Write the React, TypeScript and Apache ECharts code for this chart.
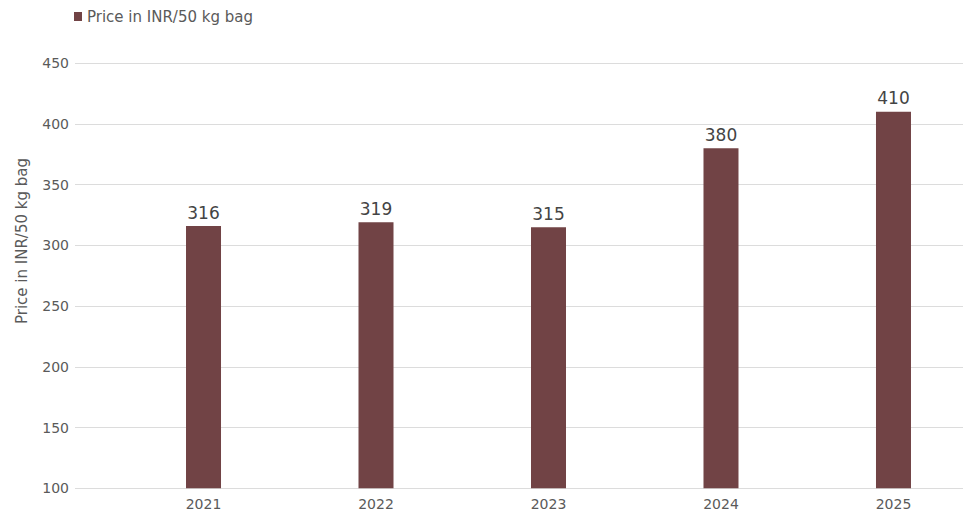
import React, { useEffect, useRef } from "react";
import * as echarts from "echarts";

const years = [2021, 2022, 2023, 2024, 2025];
const prices = [316, 319, 315, 380, 410];
const seriesName = "Price in INR/50 kg bag";
const yTitle = "Price in INR/50 kg bag";

const FONT = "'DejaVu Sans', sans-serif";
const BAR = "#714345";
const TEXT = "#5a5a5a";

export default function App() {
  const ref = useRef<HTMLDivElement>(null);
  useEffect(() => {
    document.body.style.margin = "0";
    const chart = echarts.init(ref.current!, null, { renderer: "svg" });
    chart.setOption({
      animation: false,
      textStyle: { fontFamily: FONT },
      legend: {
        left: 69,
        top: 4,
        icon: "rect",
        itemWidth: 8,
        itemHeight: 9,
        itemGap: 10,
        textStyle: { fontFamily: FONT, fontSize: 15, color: TEXT },
        data: [seriesName],
      },
      grid: { left: 75, right: 0, top: 63.3, bottom: 26.7, containLabel: false },
      xAxis: {
        type: "value",
        min: 2020.255,
        max: 2025.403,
        splitLine: { show: false },
        axisLine: { show: false },
        axisTick: { show: false },
        axisLabel: {
          customValues: years,
          formatter: (v: number) => String(v),
          fontFamily: FONT,
          fontSize: 14,
          color: TEXT,
          margin: 9,
        },
      },
      yAxis: {
        type: "value",
        min: 100,
        max: 450,
        interval: 50,
        axisLine: { show: false },
        axisTick: { show: false },
        axisLabel: { fontFamily: FONT, fontSize: 14, color: TEXT, margin: 6 },
        splitLine: { lineStyle: { color: "#dcdcdc", width: 1 } },
      },
      graphic: [
        {
          type: "text",
          x: 22,
          y: 241,
          rotation: Math.PI / 2,
          style: {
            text: yTitle,
            fontFamily: FONT,
            fontSize: 15,
            fill: TEXT,
            align: "center",
            verticalAlign: "middle",
          },
        },
      ],
      series: [
        {
          name: seriesName,
          type: "bar",
          barWidth: 35,
          itemStyle: { color: BAR },
          data: years.map((y, i) => [y, prices[i]]),
          label: {
            show: true,
            position: "top",
            distance: 5,
            fontFamily: FONT,
            fontSize: 17,
            color: "#444",
            formatter: (p: any) => String(p.value[1]),
          },
        },
      ],
    });
    return () => chart.dispose();
  }, []);
  return <div ref={ref} style={{ width: 963, height: 515 }} />;
}
